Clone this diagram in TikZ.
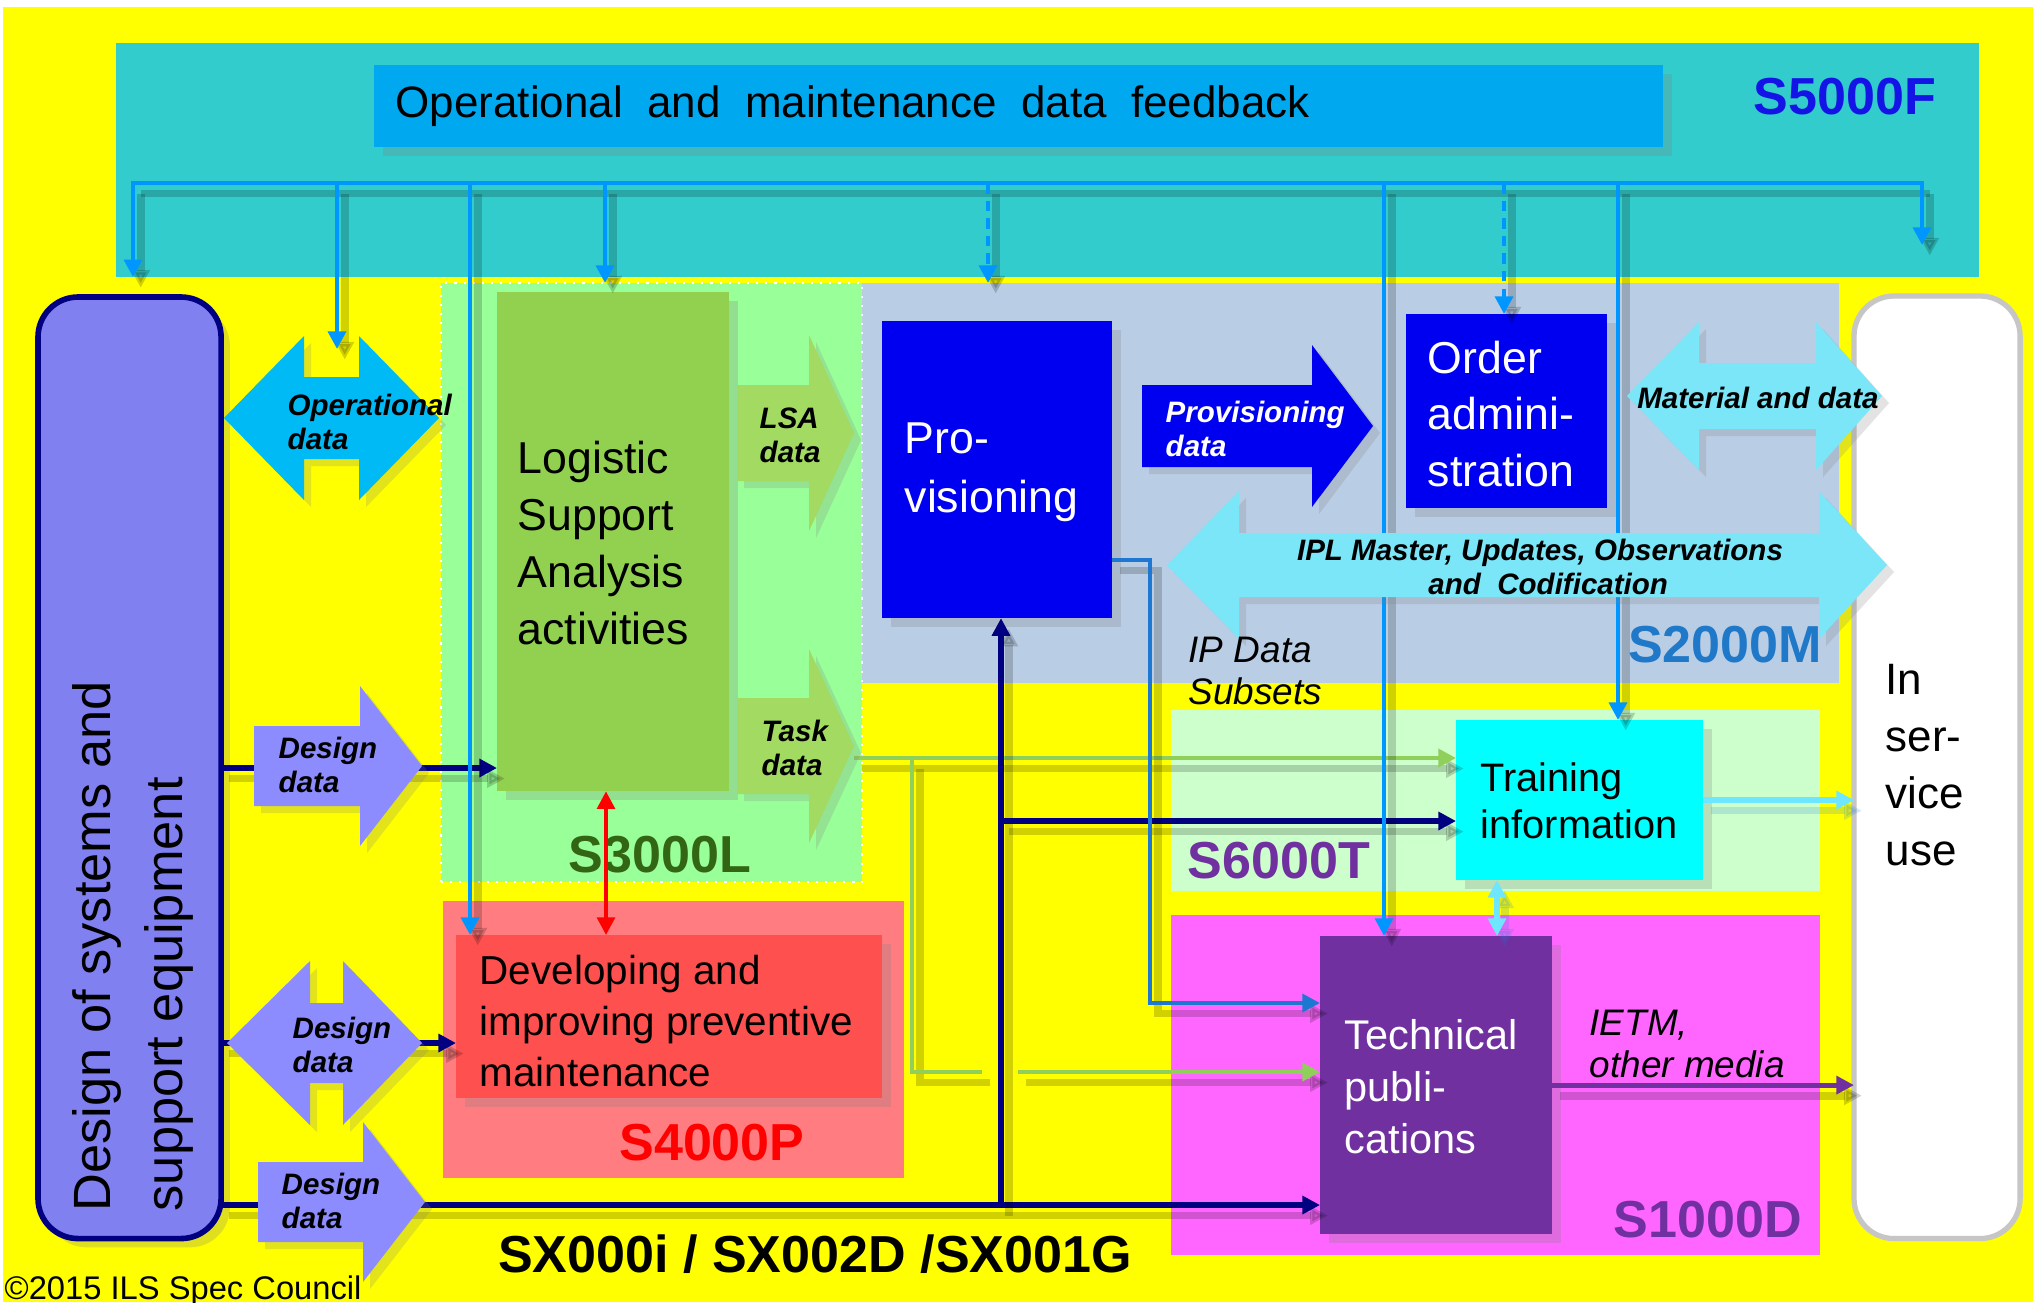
\documentclass[tikz,border=0pt]{standalone}
\usepackage{fontspec}
\setmainfont{Liberation Sans}
\usetikzlibrary{arrows.meta,shadows}

\definecolor{bgyellow}{HTML}{FFFF00}
\definecolor{feedteal}{HTML}{33CCCC}
\definecolor{feedbar}{HTML}{00A8F0}
\definecolor{feedline}{HTML}{0096FF}
\definecolor{specblue}{HTML}{1414E6}
\definecolor{lsaregion}{HTML}{99FF99}
\definecolor{lsagreen}{HTML}{92D050}
\definecolor{lsaarrow}{HTML}{A2DA62}
\definecolor{lsatext}{HTML}{336614}
\definecolor{provregion}{HTML}{B9CDE5}
\definecolor{provblue}{HTML}{0000F0}
\definecolor{provtext}{HTML}{1F78C8}
\definecolor{aqualight}{HTML}{7AE6F8}
\definecolor{opcyan}{HTML}{00BAF5}
\definecolor{designfill}{HTML}{8080F0}
\definecolor{designarrow}{HTML}{8C8CFF}
\definecolor{navy}{HTML}{000080}
\definecolor{pmregion}{HTML}{FF7C80}
\definecolor{pmred}{HTML}{FF5050}
\definecolor{trainregion}{HTML}{CCFFCC}
\definecolor{traincyan}{HTML}{00FFFF}
\definecolor{pubregion}{HTML}{FF66FF}
\definecolor{pubpurple}{HTML}{7030A0}
\definecolor{taskgreen}{HTML}{8FCF5A}
\definecolor{ipblue}{HTML}{1E78D2}
\definecolor{servicecyan}{HTML}{6EE6FF}

% block arrow pointing right: style, x0, head base, tip, y centre, shaft half, head half
\newcommand{\rightblock}[7]{%
  \path[#1] (#2,#5-#6) -- (#3,#5-#6) -- (#3,#5-#7) -- (#4,#5) -- (#3,#5+#7)
    -- (#3,#5+#6) -- (#2,#5+#6) -- cycle;}
% block arrow both ways: style, left tip, left base, right base, right tip, y centre, shaft half, head half
\newcommand{\bothblock}[8]{%
  \path[#1] (#2,#6) -- (#3,#6-#8) -- (#3,#6-#7) -- (#4,#6-#7) -- (#4,#6-#8) -- (#5,#6)
    -- (#4,#6+#8) -- (#4,#6+#7) -- (#3,#6+#7) -- (#3,#6+#8) -- cycle;}

\begin{document}
\begin{tikzpicture}
[x=0.01cm,y=-0.01cm,
  >={Triangle[length=5pt,width=5pt]},
  area/.style={inner sep=0pt,outer sep=0pt,anchor=north west},
  procbox/.style={area,drop shadow={shadow xshift=2.5pt,shadow yshift=-2.5pt,opacity=.25}},
  lineshade/.style={preaction={draw=#1,opacity=.18,line width=2.2pt,
    transform canvas={xshift=2.2pt,yshift=-3pt}}},
  lineshade/.default=black,
  feedconn/.style={draw=feedline,line width=1.4pt,lineshade},
  navyconn/.style={draw=navy,line width=1.5pt,lineshade},
  taskconn/.style={draw=taskgreen,line width=1.4pt,lineshade},
  ipconn/.style={draw=ipblue,line width=1.4pt,lineshade},
  redconn/.style={draw=red,line width=1.1pt},
  cyanconn/.style={draw=servicecyan,line width=1.6pt,lineshade=ipblue},
  ietmconn/.style={draw=pubpurple,line width=1.4pt,lineshade},
  blockarrow/.style={drop shadow={shadow xshift=2pt,shadow yshift=-2pt,opacity=.22}},
  boxtext/.style={inner sep=0pt,anchor=west,align=left},
  arrowtext/.style={inner sep=0pt,anchor=west,align=left,
    font=\bfseries\itshape\fontsize{8.4}{9.6}\selectfont},
  speclabel/.style={inner sep=0pt,font=\bfseries\fontsize{14.8}{17}\selectfont}]
%% canvas
\path[fill=white,use as bounding box] (0,0) rectangle (2033,1302);
\fill[bgyellow] (3,7) rectangle (2033,1302);
%% specification areas
\node[area,fill=feedteal,minimum width=18.62cm,minimum height=2.34cm] (s5000f) at (116,43) {};
\node[procbox,fill=feedbar,minimum width=12.88cm,minimum height=0.82cm] (feedback) at (374,65) {};
\node[boxtext,font=\fontsize{12.5}{15}\selectfont] (feedtext) at (395,106)
  {Operational\ \ and\ \ maintenance\ \ data\ \ feedback};
\node[speclabel,text=specblue] (s5000flabel) at (1845,97) {S5000F};
\node[area,fill=provregion,minimum width=9.76cm,minimum height=4.00cm] (s2000m) at (862,283) {};
\node[area,fill=lsaregion,draw=white,dotted,line width=0.6pt,minimum width=4.21cm,minimum height=5.99cm] (s3000l) at (441,283) {};
\node[area,fill=pmregion,minimum width=4.61cm,minimum height=2.77cm] (s4000p) at (443,901) {};
\node[area,fill=trainregion,minimum width=6.49cm,minimum height=1.81cm] (s6000t) at (1171,710) {};
\node[area,fill=pubregion,minimum width=6.49cm,minimum height=3.40cm] (s1000d) at (1171,915) {};
\node[speclabel,text=lsatext] (s3000llabel) at (660,855) {S3000L};
\node[speclabel,text=provtext] (s2000mlabel) at (1725,645) {S2000M};
\node[speclabel,text=red] (s4000plabel) at (712,1143) {S4000P};
\node[speclabel,text=pubpurple] (s6000tlabel) at (1279,861) {S6000T};
\node[speclabel,text=pubpurple] (s1000dlabel) at (1708,1220) {S1000D};
\node[speclabel] (sxlabel) at (815,1254) {SX000i / SX002D /SX001G};
\node[boxtext,font=\fontsize{9.3}{11}\selectfont] (copyright) at (4,1291) {©2015 ILS Spec Council};
%% process boxes
\node[procbox,fill=designfill,draw=navy,line width=1.6pt,rounded corners=0.4cm,
  minimum width=1.83cm,minimum height=9.41cm] (design) at (38,297) {};
\node[area,fill=white,draw=gray!45,line width=1.5pt,rounded corners=0.4cm,
  minimum width=1.66cm,minimum height=9.42cm] (service) at (1854,296) {};
\node[procbox,fill=lsagreen,minimum width=2.32cm,minimum height=4.99cm] (lsa) at (497,292) {};
\node[procbox,fill=pmred,minimum width=4.26cm,minimum height=1.63cm] (dev) at (456,935) {};
\node[procbox,fill=provblue,minimum width=2.30cm,minimum height=2.97cm] (prov) at (882,321) {};
\node[procbox,fill=provblue,minimum width=2.01cm,minimum height=1.94cm] (order) at (1406,314) {};
\node[procbox,fill=traincyan,minimum width=2.47cm,minimum height=1.60cm] (train) at (1456,720) {};
\node[procbox,fill=pubpurple,minimum width=2.32cm,minimum height=2.98cm] (tech) at (1320,936) {};
%% box texts
\node[rotate=90,boxtext,font=\fontsize{14.9}{20.5}\selectfont] (designtext) at (133,1212)
  {Design of systems and\\support equipment};
\node[boxtext,font=\fontsize{12.7}{16.2}\selectfont] (lsatext) at (517,543)
  {Logistic\\Support\\Analysis\\activities};
\node[boxtext,text=white,font=\fontsize{12.7}{16.8}\selectfont] (provtext) at (904,472)
  {Pro-\\visioning};
\node[boxtext,text=white,font=\fontsize{12.7}{16}\selectfont] (ordertext) at (1427,414)
  {Order\\admini-\\stration};
\node[boxtext,font=\fontsize{11.5}{14.5}\selectfont] (devtext) at (479,1021)
  {Developing and\\improving preventive\\maintenance};
\node[boxtext,font=\fontsize{11.3}{13.4}\selectfont] (traintext) at (1480,801)
  {Training\\information};
\node[boxtext,text=white,font=\fontsize{11.8}{14.8}\selectfont] (techtext) at (1344,1087)
  {Technical\\publi-\\cations};
\node[boxtext,font=\fontsize{12.5}{16.2}\selectfont] (servicetext) at (1885,765)
  {In\\ser-\\vice\\use};
%% task data lines
\coordinate (taskout) at (854,758);
\coordinate (tasksplit) at (912,758);
\coordinate (taskbend) at (912,1072);
\coordinate (taskgapl) at (982,1072);
\coordinate (taskgapr) at (1018,1072);
\draw[taskconn,->] (taskout) -- (train.west |- taskout);
\draw[taskconn] (tasksplit) -- (taskbend) -- (taskgapl);
\draw[taskconn,->] (taskgapr) -- (tech.west |- taskgapr);
%% design data lines
\coordinate (ddrow1) at (0,768);
\coordinate (ddrow2) at (0,1043);
\coordinate (ddrow3) at (0,1205);
\foreach \row/\target in {ddrow1/lsa, ddrow2/dev, ddrow3/tech} {
  \draw[navyconn,->] (design.east |- \row) -- (\target.west |- \row);
}
\coordinate (navfoot) at (1001,1205);
\coordinate (navbranch) at (1001,821);
\draw[navyconn,->] (navfoot) -- (navfoot |- prov.south);
\draw[navyconn,->] (navbranch) -- (train.west |- navbranch);
%% feedback lines
\foreach \name/\x in {a/133, b/337, c/470, d/605, e/988, f/1384, g/1504, h/1618, i/1922} {
  \coordinate (fb\name) at (\x,183);
}
\coordinate (opnotch) at (337,349);
\coordinate (feedright) at (1922,245);
\draw[feedconn,line cap=rect] (fba) -- (fbi);
\draw[feedconn,->] (fba) -- (fba |- s5000f.south);
\draw[feedconn,->] (fbb) -- (opnotch);
\foreach \src/\dst in {fbc/dev, fbd/s3000l, fbf/tech, fbh/train} {
  \draw[feedconn,->] (\src) -- (\src |- \dst.north);
}
\foreach \src/\dst in {fbe/s2000m, fbg/order} {
  \draw[feedconn,dash pattern=on 3pt off 2pt,->] (\src) -- (\src |- \dst.north);
}
\draw[feedconn,->] (fbi) -- (feedright);
%% other connectors
\coordinate (redcol) at (606,0);
\draw[redconn,<->] (lsa.south -| redcol) -- (dev.north -| redcol);
\coordinate (ipout) at (0,560);
\coordinate (ipdown) at (1150,1003);
\draw[ipconn,->] (prov.east |- ipout) -| (ipdown) -- (tech.west |- ipdown);
\coordinate (trainlink) at (1497,0);
\draw[cyanconn,->] (train.east) -- (train.east -| service.west);
\draw[cyanconn,<->] (train.south -| trainlink) -- (tech.north -| trainlink);
\draw[ietmconn,->] (tech.east) -- (tech.east -| service.west);
%% block arrows
\bothblock{blockarrow,fill=opcyan}{224}{304}{359}{439}{418}{41}{82}
\rightblock{blockarrow,fill=designarrow}{254}{360}{422}{766}{40}{80}
\bothblock{blockarrow,fill=designarrow}{227}{310}{343}{422}{1043}{40}{82}
\rightblock{blockarrow,fill=designarrow}{258}{363}{425}{1202}{40}{80}
\rightblock{blockarrow,fill=lsaarrow}{737}{809}{854}{433}{48}{98}
\rightblock{blockarrow,fill=lsaarrow}{737}{809}{854}{746}{48}{97}
\rightblock{blockarrow,fill=provblue}{1142}{1312}{1373}{426}{41}{81}
\bothblock{blockarrow,fill=aqualight}{1627}{1699}{1816}{1882}{396}{33}{74}
\bothblock{blockarrow,fill=aqualight}{1167}{1239}{1819}{1887}{565}{32}{74}
%% arrow labels
\node[arrowtext] (oplabel) at (287,422) {Operational\\data};
\node[arrowtext] (ddlabela) at (278,765) {Design\\data};
\node[arrowtext] (ddlabelb) at (292,1045) {Design\\data};
\node[arrowtext] (ddlabelc) at (281,1201) {Design\\data};
\node[arrowtext] (lsadatalabel) at (759,435) {LSA\\data};
\node[arrowtext] (tasklabel) at (761,748) {Task\\data};
\node[arrowtext,text=white] (provdatalabel) at (1165,429) {Provisioning\\data};
\node[arrowtext,anchor=center] (materiallabel) at (1758,398) {Material and data};
\node[arrowtext,anchor=center,align=center] (ipllabel) at (1540,567)
  {IPL Master, Updates, Observations\\\ \ and\ \ Codification};
\node[boxtext,font=\itshape\fontsize{10.5}{12}\selectfont] (ipsubsets) at (1188,671)
  {IP Data\\Subsets};
\node[boxtext,font=\itshape\fontsize{10.5}{12}\selectfont] (ietmlabel) at (1589,1044)
  {IETM,\\other media};
\end{tikzpicture}
\end{document}
